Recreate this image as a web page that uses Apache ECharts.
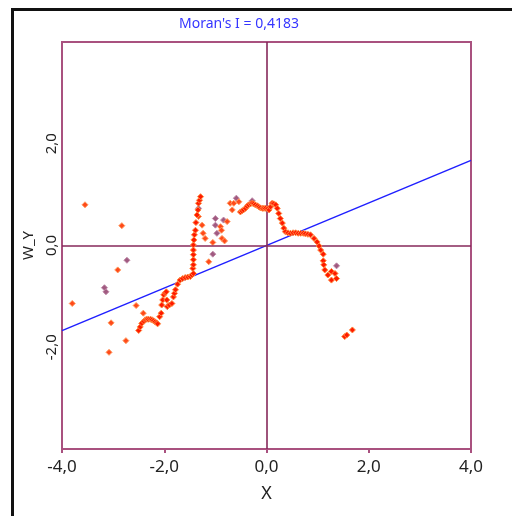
<!DOCTYPE html>
<html>
<head>
<meta charset="utf-8">
<script src="https://cdn.jsdelivr.net/npm/echarts@6/dist/echarts.min.js"></script>
<style>html,body{margin:0;padding:0;background:#fff;}#c{width:512px;height:516px;}</style>
</head>
<body>
<div id="c"></div>
<script>
// ---- data ----
var titleText = "Moran's I = 0,4183";
var moranI = 0.4183;
var xTicks = [-4, -2, 0, 2, 4];
var yTicks = [-4, -2, 0, 2, 4];
var xName = "X";
var yName = "W_Y";

// main dense trajectory (red)
var curveX = [-2.50,-2.47,-2.44,-2.40,-2.37,-2.34,-2.31,-2.27,-2.24,-2.21,-2.18,-2.15,-2.13,-2.09,-2.06,-2.05,-2.03,-2.01,-1.98,-1.96,-1.95,-1.94,-1.90,-1.85,-1.82,-1.80,-1.78,-1.74,-1.69,-1.64,-1.59,-1.54,-1.49,-1.46,-1.43,-1.44,-1.43,-1.43,-1.43,-1.43,-1.43,-1.42,-1.41,-1.39,-1.38,-1.36,-1.34,-1.33,-1.31,-1.29,
  -0.51,-0.48,-0.45,-0.41,-0.38,-0.35,-0.31,-0.28,-0.25,-0.22,-0.18,-0.15,-0.12,-0.08,-0.05,-0.02,0.02,0.05,0.08,0.11,0.14,0.18,0.21,0.24,0.27,0.31,0.34,0.37,0.42,0.47,0.52,0.57,0.62,0.67,0.72,0.76,0.81,0.86,0.93,0.99,1.03,1.06,1.11,1.11,1.12,1.14,1.20,1.27,1.34,1.27,1.37,1.53,1.57,1.68];
var curveY = [-1.67,-1.60,-1.53,-1.49,-1.46,-1.45,-1.45,-1.45,-1.46,-1.48,-1.50,-1.52,-1.54,-1.40,-1.33,-1.17,-1.07,-0.97,-0.93,-0.91,-1.07,-1.20,-1.17,-1.14,-1.01,-0.94,-0.87,-0.76,-0.68,-0.65,-0.63,-0.62,-0.61,-0.58,-0.55,-0.45,-0.38,-0.28,-0.18,-0.09,0.01,0.11,0.21,0.30,0.45,0.60,0.70,0.83,0.89,0.96,
  0.66,0.68,0.70,0.73,0.77,0.80,0.82,0.83,0.82,0.80,0.78,0.76,0.74,0.73,0.73,0.73,0.72,0.70,0.76,0.83,0.82,0.80,0.73,0.63,0.53,0.44,0.34,0.27,0.25,0.24,0.25,0.25,0.24,0.24,0.24,0.23,0.22,0.21,0.14,0.07,-0.01,-0.09,-0.17,-0.30,-0.38,-0.48,-0.58,-0.51,-0.55,-0.68,-0.65,-1.79,-1.76,-1.66];

// scattered points (orange)
var scatterX = [-3.55,-2.83,-2.91,-3.80,-2.55,-2.41,-3.04,-2.75,-3.08,-1.33,-1.26,-1.24,-1.20,-1.05,-1.13,-0.90,-0.88,-0.87,-0.82,-0.77,-0.71,-0.67,-0.64,-0.54];
var scatterY = [0.80,0.39,-0.48,-1.14,-1.18,-1.33,-1.52,-1.87,-2.10,0.57,0.40,0.24,0.14,0.06,-0.32,0.37,0.30,0.14,0.09,0.47,0.83,0.70,0.83,0.86];

// purple points
var purpleX = [-2.73,-3.17,-3.14,-1.94,-1.33,-1.05,-1.00,-1.00,-0.97,-0.84,-0.59,-0.28,1.37];
var purpleY = [-0.29,-0.83,-0.91,-1.20,0.73,-0.17,0.53,0.40,0.24,0.50,0.93,0.88,-0.40];

function pairs(xs, ys){ return xs.map(function(v,i){ return [v, ys[i]]; }); }
function fmt(v){ return v.toFixed(1).replace('.', ','); }

var frameColor = '#a9517f';
var crossColor = '#86285a';

var chart = echarts.init(document.getElementById('c'), null, {renderer:'canvas'});
chart.setOption({
  animation: false,
  backgroundColor: '#ffffff',
  title: {
    text: titleText, left: 174, top: 12,
    textStyle: {color:'#3535ff', fontSize: 14, fontWeight: 'normal', fontFamily: 'Noto Sans'}
  },
  graphic: [
    {type:'line', shape:{x1:12.5, y1:9, x2:12.5, y2:516}, style:{stroke:'#111', lineWidth:3}},
    {type:'line', shape:{x1:11, y1:9.5, x2:512, y2:9.5}, style:{stroke:'#111', lineWidth:3}}
  ],
  grid: {left: 62, top: 42, width: 409, height: 407, show: true, borderColor: frameColor, borderWidth: 2, containLabel: false},
  xAxis: {
    type: 'value', min: xTicks[0], max: xTicks[xTicks.length-1], interval: 2,
    name: xName, nameLocation: 'middle', nameGap: 36,
    nameTextStyle: {color:'#222', fontSize: 18, fontFamily: 'Noto Sans'},
    axisLine: {show: true, onZero: false, lineStyle: {color: frameColor, width: 2}},
    axisTick: {show: true, inside: false, length: 4, lineStyle: {color: frameColor, width: 2}},
    axisLabel: {color:'#222', fontSize: 17, fontFamily: 'Noto Sans', margin: 10, formatter: fmt},
    splitLine: {show: false}
  },
  yAxis: {
    type: 'value', min: yTicks[0], max: yTicks[yTicks.length-1], interval: 2,
    name: yName, nameLocation: 'middle', nameGap: 26,
    nameTextStyle: {color:'#222', fontSize: 15, fontFamily: 'Noto Sans'},
    axisLine: {show: true, onZero: false, lineStyle: {color: frameColor, width: 2}},
    axisTick: {show: false},
    axisLabel: {color:'#222', fontSize: 15, fontFamily: 'Noto Sans', rotate: 90, margin: 3, formatter: function(v){ return (v===-4||v===4)?'':fmt(v); }},
    splitLine: {show: false}
  },
  series: [
    {
      type: 'line', data: [[-4, -4*moranI],[4, 4*moranI]], symbol: 'none', silent: true,
      lineStyle: {color:'#1f1fff', width: 1.5}, z: 1,
      markLine: {
        silent: true, symbol: 'none', label: {show:false},
        lineStyle: {color: crossColor, width: 1.6, type: 'solid'},
        data: [{xAxis: 0}, {yAxis: 0}]
      }
    },
    {
      type: 'scatter', data: pairs(purpleX, purpleY), symbol: 'diamond', symbolSize: 6, z: 3,
      itemStyle: {color:'#a05a80', borderColor:'#c08aa8', borderWidth: 1, opacity: 1}
    },
    {
      type: 'scatter', data: pairs(scatterX, scatterY), symbol: 'diamond', symbolSize: 6, z: 4,
      itemStyle: {color:'#ff4a1a', borderColor:'#ff9a60', borderWidth: 1, opacity: 1}
    },
    {
      type: 'scatter', data: pairs(curveX, curveY), symbol: 'diamond', symbolSize: 6, z: 5,
      itemStyle: {color:'#ff1a00', borderColor:'#ff8a40', borderWidth: 1, opacity: 1}
    }
  ]
});
</script>
</body>
</html>
